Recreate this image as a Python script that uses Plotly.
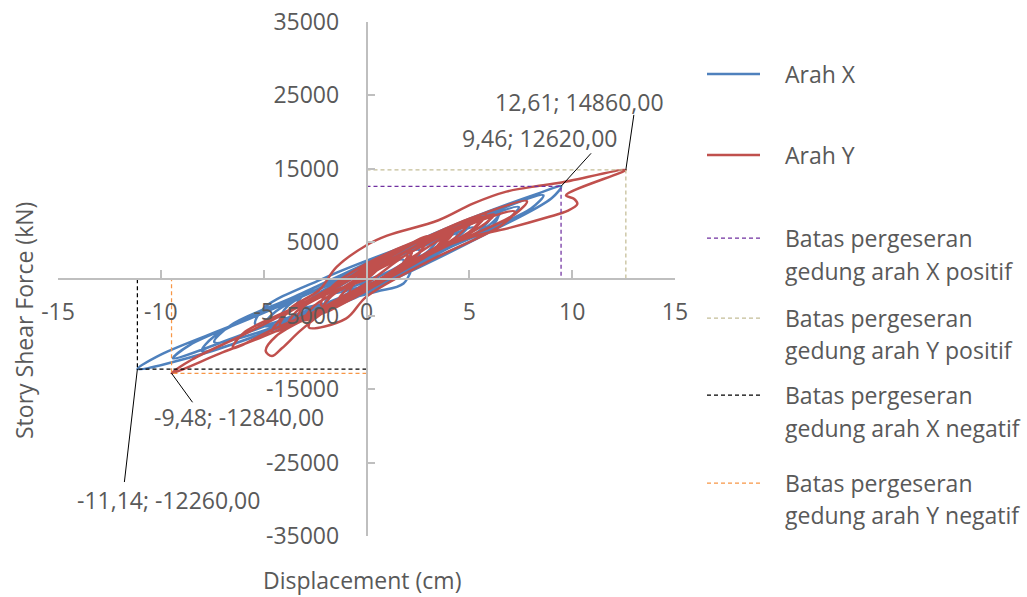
import plotly.graph_objects as go

# ---------------- data ----------------
arah_x_disp = [0.0, 0.9, 1.8, 1.5, 0.0, -1.8, -1.5, 0.4, 2.6, 2.3, 1.8, 0.5, -1.5, -3.4, -3.0,
               -1.0, 1.5, 4.4, 4.0, 1.5, -2.0, -5.4, -5.0, -2.0, 2.0, 6.4, 6.0, 2.5, -2.5, -7.4,
               -6.6, -3.5, 1.0, 5.0, 8.5, 9.46, 9.0, 6.0, 1.5, -3.0, -7.5, -11.14, -10.0, -6.5, -3.0,
               1.0, 5.0, 8.6, 8.0, 4.5, 0.5, -4.0, -8.0, -7.4, -4.5, -1.0, 3.0, 6.5, 6.0, 3.0,
               -1.0, -5.0, -4.4, -1.5, 1.5, 3.5, 3.0, 0.5, -2.0, -1.6, 1.0, 3.6, 5.2, 4.6, 2.0,
               -1.0, -4.2, -3.8, -0.8, 2.6, 7.4, 6.8, 3.5, -1.0, -5.5, -9.4, -8.6, -5.5, -2.0, 1.5,
               2.2, 1.8, 0.0, -1.2, -0.6, 1.5, 4.0, 6.0, 5.5, 2.5, -1.0, -3.0, -2.6, 0.0, 3.0,
               5.0, 4.4, 1.5, 0.0]
arah_x_force = [0, 1900, 2600, 1000, -800, -1900, -400, 2000, 3900, 2000, -600, -1700, -3000, -3800, -2000,
                800, 3800, 6400, 4400, 800, -3600, -6200, -4000, 200, 4600, 9000, 6800, 1800, -4600, -8600,
                -6300, -2400, 3400, 8200, 11800, 12620, 11000, 6400, 200, -5200, -9800, -12260, -10300, -6300, -2200,
                2800, 7800, 11400, 9600, 5000, -1200, -6400, -9800, -7800, -3800, 800, 5600, 9200, 7400, 3000,
                -2800, -6400, -4400, -200, 3800, 5800, 3800, 200, -3300, -1600, 2400, 5400, 7000, 5200, 1600,
                -2600, -5600, -3600, 600, 4800, 9800, 8000, 3600, -2200, -7000, -10800, -9000, -5200, -1000, 3600,
                3900, 2200, -300, -1500, -300, 3000, 6200, 8400, 6600, 2200, -2400, -4000, -2400, 1200, 5200,
                7400, 5600, 1400, 0]

arah_y_disp = [0.0, 1.0, 2.2, 1.8, 0.0, -2.2, -1.8, 0.5, 3.8, 3.2, 0.5, -2.0, -4.2, -3.7, -2.3,
               -1.45, 0.0, 1.0, 3.5, 5.2, 6.8, 8.4, 9.4, 12.61, 9.7, 10.1, 10.25, 9.8, 8.8, 7.0,
               5.2, 3.0, 0.5, -2.5, -4.4, -4.9, -4.6, -4.1, -3.2, -2.0, -0.8, 1.5, 4.5, 7.2, 6.6,
               3.0, 0.0, -1.0, -2.8, -2.4, 0.0, 2.0, 4.2, 3.6, 1.0, -2.0, -5.0, -7.0, -9.48, -8.5,
               -6.0, -3.5, -1.0, 2.0, 5.0, 7.8, 7.2, 4.0, 1.0, -2.0, -4.5, -6.5, -6.0, -3.6, -1.0,
               1.5, 3.2, 4.2, 3.6, 1.0, -1.6, -4.6, -4.0, -1.8, 0.5, 2.8, 5.8, 5.2, 2.5, -0.5,
               -3.0, -2.6, -0.8, 1.2, 2.0, 1.6, 0.0, -0.8, -0.4, 1.5, 3.5, 5.0, 4.4, 2.0, -0.5,
               -2.2, -1.8, 0.5, 2.8, 6.2, 5.6, 3.0, 0.0, -3.4, -3.0, -1.0, 1.5, 3.0, 2.5, 0.5,
               -1.5, -1.1, 0.8, 4.2, 5.6, 5.0, 2.0, -1.2, -3.8, -3.4, -1.4, 0.0]
arah_y_force = [0, 2400, 3800, 1800, -1400, -3600, -1400, 2800, 6200, 3800, -600, -4400, -6400, -4000, -1500,
                1650, 4600, 5900, 8000, 10300, 11900, 12700, 13100, 14860, 11400, 10900, 10200, 9300, 8400, 7000,
                5800, 3400, -800, -4800, -7800, -9800, -10500, -9400, -7000, -4400, -2800, 1600, 6800, 9200, 7400,
                2400, -2400, -5400, -6600, -4600, -600, 3400, 6400, 4400, 0, -4200, -7800, -10000, -12840, -11000,
                -7600, -4000, 0, 4400, 8200, 10600, 8800, 4600, 400, -3800, -6800, -9400, -7400, -4000, -200,
                3600, 6000, 6800, 4800, 600, -3400, -7200, -5000, -1600, 2600, 5400, 8800, 6800, 2600, -2200,
                -5600, -3800, -800, 2200, 3200, 1600, -1200, -1800, 200, 3600, 6400, 7800, 5800, 1800, -2400,
                -4600, -2600, 1600, 5000, 8800, 7200, 3400, -1400, -5800, -3600, -400, 3800, 5800, 3400, -400,
                -3600, -1800, 1800, 7200, 8400, 6400, 2000, -3000, -6200, -4400, -1400, 0]

limit_names = ["Batas pergeseran<br>gedung arah X positif",
               "Batas pergeseran<br>gedung arah Y positif",
               "Batas pergeseran<br>gedung arah X negatif",
               "Batas pergeseran<br>gedung arah Y negatif"]
limit_disp = [9.46, 12.61, -11.14, -9.48]
limit_force = [12620, 14860, -12260, -12840]

x_ticks = [-15, -10, -5, 0, 5, 10, 15]
y_ticks = [-35000, -25000, -15000, -5000, 5000, 15000, 25000, 35000]

# ---------------- style ----------------
FONT = "Open Sans"
FS = 23
TXT = "#595959"
AXC = "#BFBFBF"
BLUE = "#4F81BD"
RED = "#C0504D"
limit_colors = ["#7030A0", "#C4BD97", "#000000", "#F79646"]
DASH = "4px,3px"

W, H = 1027, 597
ML, MR, MT, MB = 58, 352, 22, 61
PW, PH = W - ML - MR, H - MT - MB


def px_x(p):
    return (p - ML) / PW


def px_y(p):
    return (H - MB - p) / PH


fig = go.Figure()

fig.add_trace(go.Scatter(x=arah_x_disp, y=arah_x_force, mode="lines", name="Arah X",
                         line=dict(color=BLUE, width=2.5, shape="spline", smoothing=1.0),
                         showlegend=False))
fig.add_trace(go.Scatter(x=arah_y_disp, y=arah_y_force, mode="lines", name="Arah Y",
                         line=dict(color=RED, width=2.5, shape="spline", smoothing=1.0),
                         showlegend=False))

for name, dx, fy, col in zip(limit_names, limit_disp, limit_force, limit_colors):
    fig.add_trace(go.Scatter(x=[0, dx, dx], y=[fy, fy, 0], mode="lines", name=name,
                             line=dict(color=col, width=1.25, dash=DASH), showlegend=False))

# data labels with leader lines (pixel offsets relative to the point)
# order of limits: X pos, Y pos, X neg, Y neg
leader_end = [(30, 33), (8, 55), (-13, -113), (21, -29)]
label_text_shift = [(-22, 48), (-46, 68), (31, -131), (67, -44)]


def fmt(v):
    return f"{v:.2f}".replace(".", ",")


for dx, fy, (sx, sy), (lx, ly) in zip(limit_disp, limit_force, label_text_shift, leader_end):
    fig.add_shape(type="line", xref="x", yref="y", xsizemode="pixel", ysizemode="pixel",
                  xanchor=dx, yanchor=fy, x0=0, y0=0, x1=lx, y1=ly,
                  line=dict(color="#000000", width=1))
    fig.add_annotation(x=dx, y=fy, xref="x", yref="y", text=f"{fmt(dx)}; {fmt(fy)}",
                       showarrow=False, xshift=sx, yshift=sy, xanchor="center", yanchor="middle",
                       font=dict(family=FONT, size=FS, color=TXT))

# axis titles
fig.add_annotation(x=px_x(362), y=px_y(580), xref="paper", yref="paper", text="Displacement (cm)",
                   xanchor="center", yanchor="middle",
                   showarrow=False, font=dict(family=FONT, size=FS, color=TXT))
fig.add_annotation(x=px_x(24), y=px_y(321), xref="paper", yref="paper", text="Story Shear Force (kN)",
                   xanchor="center", yanchor="middle",
                   textangle=-90, showarrow=False, font=dict(family=FONT, size=FS, color=TXT))

# manual legend
legend_items = [
    ("Arah X", BLUE, "solid", 2.5, [74]),
    ("Arah Y", RED, "solid", 2.5, [155]),
]
legend_lines_y = [(238, 271), (318, 350), (395, 428), (483, 515)]
for name, col, (y1, y2) in zip(limit_names, limit_colors, legend_lines_y):
    parts = name.split("<br>")
    legend_items.append((parts, col, DASH, 1.25, [y1, y2]))

for text, col, dash, wd, ys in legend_items:
    lines = text if isinstance(text, list) else [text]
    fig.add_shape(type="line", xref="paper", yref="paper", x0=px_x(707), x1=px_x(760),
                  y0=px_y(ys[0]), y1=px_y(ys[0]), line=dict(color=col, width=wd, dash=dash))
    for t, yy in zip(lines, ys):
        fig.add_annotation(x=px_x(783), y=px_y(yy), xref="paper", yref="paper", text=t,
                           xanchor="left", yanchor="middle", showarrow=False,
                           font=dict(family=FONT, size=FS, color=TXT))

fig.update_layout(
    width=W, height=H,
    margin=dict(l=ML, r=MR, t=MT, b=MB, autoexpand=False),
    paper_bgcolor="white", plot_bgcolor="white",
    font=dict(family=FONT, size=FS, color=TXT),
    showlegend=False,
    xaxis=dict(range=[-15, 15], tickvals=x_ticks, ticktext=[str(v) for v in x_ticks],
               ticks="inside", ticklen=8, tickcolor=AXC,
               tickwidth=1.5, showline=True, linecolor=AXC, linewidth=1.5, anchor="free",
               position=0.5, showgrid=False, zeroline=False, ticklabelstandoff=13, automargin=False,
               tickfont=dict(family=FONT, size=FS, color=TXT)),
    yaxis=dict(range=[-35000, 35000], tickvals=y_ticks, ticktext=[str(v) for v in y_ticks],
               ticks="inside", ticklen=8, tickcolor=AXC,
               tickwidth=1.5, showline=True, linecolor=AXC, linewidth=1.5, anchor="free",
               position=0.5, showgrid=False, zeroline=False, ticklabelstandoff=22, automargin=False,
               tickfont=dict(family=FONT, size=FS, color=TXT)),
)

fig.write_html("out.html")
